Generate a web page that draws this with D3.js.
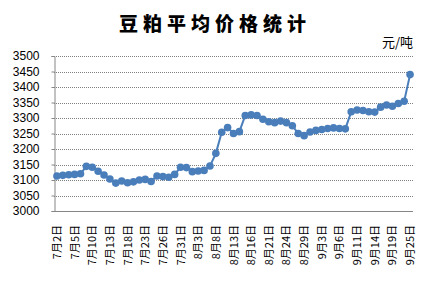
<!DOCTYPE html>
<html>
<head>
    <meta charset="utf-8">
    <style>
        body { margin: 0; background: #fff; }
        svg { display: block; }
        .title { font-family: 'Noto Sans CJK SC', sans-serif; font-weight: 900; font-size: 19px; letter-spacing: 5px; }
        .unit { font-family: 'Noto Sans CJK SC', sans-serif; font-size: 13px; }
        .tick text { font-family: 'Liberation Sans', Arial, sans-serif; font-size: 12px; fill: #000; }
        .xlab { font-family: 'Noto Sans CJK SC', 'Liberation Sans', sans-serif; font-size: 11px; }
    </style>
</head>
<body>
<svg width="427" height="282"></svg>
<script src="https://d3js.org/d3.v7.min.js"></script>
<script>
    // trading days (2018)
    let dates = [
        "7月2日","7月3日","7月4日","7月5日","7月6日","7月9日","7月10日","7月11日","7月12日","7月13日",
        "7月16日","7月17日","7月18日","7月19日","7月20日","7月23日","7月24日","7月25日","7月26日","7月27日",
        "7月30日","7月31日","8月1日","8月2日","8月3日","8月6日","8月7日","8月8日","8月9日","8月10日",
        "8月13日","8月14日","8月15日","8月16日","8月17日","8月20日","8月21日","8月22日","8月23日","8月24日",
        "8月27日","8月28日","8月29日","8月30日","8月31日","9月3日","9月4日","9月5日","9月6日","9月7日",
        "9月10日","9月11日","9月12日","9月13日","9月14日","9月17日","9月18日","9月19日","9月20日","9月21日",
        "9月25日"
    ];

    let prices = [
        3113, 3115, 3117, 3118, 3120, 3144, 3141, 3128, 3116, 3103,
        3090, 3097, 3091, 3094, 3100, 3102, 3095, 3113, 3111, 3109,
        3118, 3141, 3140, 3127, 3129, 3131, 3145, 3186, 3254, 3269,
        3250, 3256, 3308, 3310, 3308, 3296, 3288, 3285, 3290, 3285,
        3275, 3250, 3243, 3255, 3260, 3263, 3266, 3268, 3266, 3265,
        3320, 3326, 3324, 3320, 3319, 3335, 3342, 3338, 3347, 3354,
        3440
    ];

    let yTicks = [3000, 3050, 3100, 3150, 3200, 3250, 3300, 3350, 3400, 3450, 3500];

    let margin = { top: 56, left: 54, right: 14, bottom: 71 };
    let width = 427, height = 282;
    let svg = d3.select("svg");

    let x = d3.scalePoint()
        .domain(dates)
        .range([margin.left, width - margin.right])
        .padding(0.5);

    let y = d3.scaleLinear()
        .domain([3000, 3500])
        .range([height - margin.bottom, margin.top]);

    // title
    svg.append("text")
        .attr("class", "title")
        .attr("x", 215)
        .attr("y", 31)
        .attr("text-anchor", "middle")
        .text("豆粕平均价格统计");

    svg.append("text")
        .attr("class", "unit")
        .attr("x", 413)
        .attr("y", 47)
        .attr("text-anchor", "end")
        .text("元/吨");

    // gridlines
    svg.append("g")
        .selectAll("line")
        .data(yTicks.slice(1))
        .join("line")
        .attr("x1", margin.left)
        .attr("x2", width - margin.right)
        .attr("y1", d => Math.round(y(d)) + 0.5)
        .attr("y2", d => Math.round(y(d)) + 0.5)
        .style("stroke", "#7f7f7f")
        .style("stroke-dasharray", "1,1")
        .style("stroke-width", 1);

    // y axis
    let yAxis = svg.append("g")
        .attr("transform", `translate(${margin.left + 0.5},0)`)
        .call(d3.axisLeft(y).tickValues(yTicks).tickFormat(d3.format("d")).tickSize(3).tickPadding(12));
    yAxis.select(".domain").style("stroke", "#868686");
    yAxis.selectAll(".tick line").style("stroke", "#868686");

    // x axis line
    svg.append("line")
        .attr("x1", margin.left)
        .attr("x2", width - margin.right)
        .attr("y1", Math.round(y(3000)) + 0.5)
        .attr("y2", Math.round(y(3000)) + 0.5)
        .style("stroke", "#868686");

    // x labels, every 3rd day
    svg.append("g")
        .selectAll("text")
        .data(dates.filter((d, i) => i % 3 == 0))
        .join("text")
        .attr("class", "xlab")
        .attr("transform", d => `translate(${x(d) + 4},${y(3000) + 14}) rotate(-90)`)
        .attr("text-anchor", "end")
        .text(d => d);

    // line + markers
    let line = d3.line()
        .x((d, i) => x(dates[i]))
        .y(d => y(d));

    svg.append("path")
        .datum(prices)
        .attr("d", line)
        .style("fill", "none")
        .style("stroke", "#4a7ebb")
        .style("stroke-width", 2);

    svg.append("g")
        .selectAll("circle")
        .data(prices)
        .join("circle")
        .attr("cx", (d, i) => x(dates[i]))
        .attr("cy", d => y(d))
        .attr("r", 3.8)
        .style("fill", "#4a7ebb");
</script>
</body>
</html>
